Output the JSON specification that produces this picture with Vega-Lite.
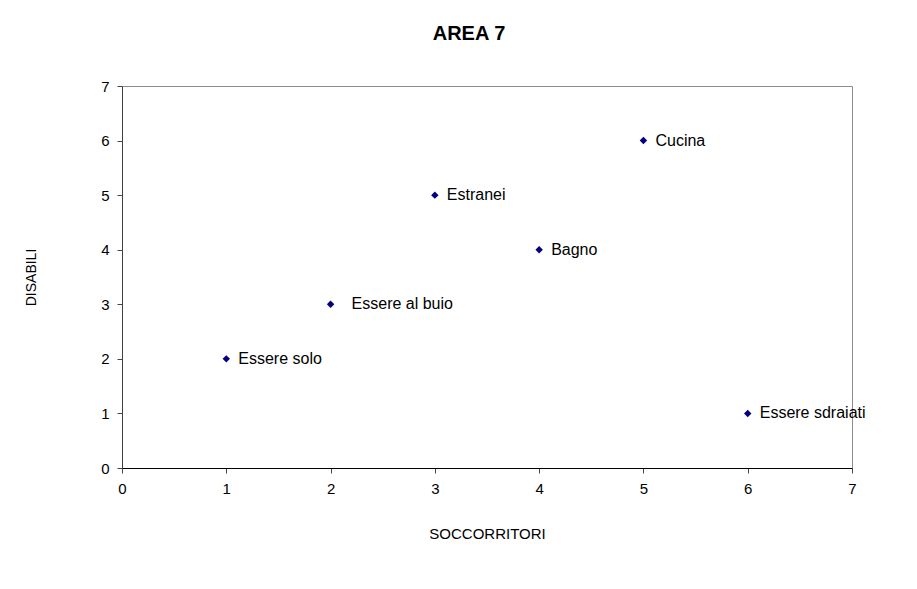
{
  "$schema": "https://vega.github.io/schema/vega-lite/v6.json",
  "autosize": {"type": "none"},
  "padding": {"left": 122, "top": 86, "right": 65, "bottom": 121},
  "width": 730,
  "height": 382,
  "background": "white",
  "title": {
    "text": "AREA 7",
    "font": "Liberation Sans",
    "fontSize": 20,
    "fontWeight": "bold",
    "color": "black",
    "anchor": "middle",
    "dx": -18,
    "offset": 35
  },
  "config": {
    "view": {"stroke": "#8c8c8c", "strokeWidth": 1},
    "axis": {
      "grid": false,
      "labelFont": "Liberation Sans",
      "labelFontSize": 15,
      "labelColor": "black",
      "labelFlush": false,
      "titleFont": "Liberation Sans",
      "titleFontSize": 15,
      "titleFontWeight": "normal",
      "titleColor": "black",
      "tickColor": "#444444",
      "tickSize": 5
    }
  },
  "data": {
    "values": [
      {"soccorritori": 1, "disabili": 2, "label": "Essere solo"},
      {"soccorritori": 2, "disabili": 3, "label": "Essere al buio"},
      {"soccorritori": 3, "disabili": 5, "label": "Estranei"},
      {"soccorritori": 4, "disabili": 4, "label": "Bagno"},
      {"soccorritori": 5, "disabili": 6, "label": "Cucina"},
      {"soccorritori": 6, "disabili": 1, "label": "Essere sdraiati"}
    ]
  },
  "encoding": {
    "x": {
      "field": "soccorritori",
      "type": "quantitative",
      "scale": {"domain": [0, 7], "nice": false},
      "axis": {
        "title": "SOCCORRITORI",
        "values": [0, 1, 2, 3, 4, 5, 6, 7],
        "format": "d",
        "domainColor": "black",
        "labelPadding": 8,
        "titlePadding": 30
      }
    },
    "y": {
      "field": "disabili",
      "type": "quantitative",
      "scale": {"domain": [0, 7], "nice": false},
      "axis": {
        "title": "DISABILI",
        "titleFontSize": 14,
        "values": [0, 1, 2, 3, 4, 5, 6, 7],
        "format": "d",
        "domainColor": "#404040",
        "labelPadding": 8,
        "titlePadding": 62
      }
    }
  },
  "layer": [
    {
      "mark": {"type": "point", "shape": "diamond", "filled": true, "color": "#000080", "size": 55, "opacity": 1}
    },
    {
      "transform": [{"filter": "datum.label !== 'Essere al buio'"}],
      "mark": {"type": "text", "align": "left", "baseline": "middle", "dx": 12, "font": "Liberation Sans", "fontSize": 16, "color": "black"},
      "encoding": {"text": {"field": "label"}}
    },
    {
      "transform": [{"filter": "datum.label === 'Essere al buio'"}],
      "mark": {"type": "text", "align": "left", "baseline": "middle", "dx": 21, "font": "Liberation Sans", "fontSize": 16, "color": "black"},
      "encoding": {"text": {"field": "label"}}
    }
  ]
}
